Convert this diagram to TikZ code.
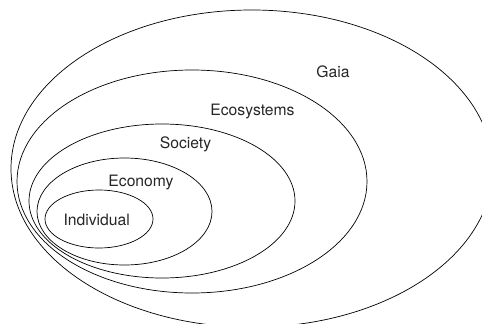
\documentclass[tikz,border=0pt]{standalone}
\usepackage{fontspec}
\setmainfont{TeX Gyre Heros}
\usepackage{tikz}
\usetikzlibrary{positioning}

\tikzset{
    ring/.style={draw=black, line width=0.7pt},
    tag/.style={anchor=base, inner sep=0pt, font=\fontsize{15.7}{18}\selectfont, text=black!85}
}

\begin{document}
\begin{tikzpicture}[x=1pt, y=-1pt]
    \useasboundingbox (0,0) rectangle (482,324);
    \clip (0,0) rectangle (482,324);

    % Nested spheres
    \foreach \cx/\cy/\rx/\ry in {99/219/54/29, 124.5/211.5/87.5/53.5, 162/201/133/77, 192/181.5/175/111.5, 251.8/168.6/240.8/158.6}
        \draw[ring] (\cx,\cy) ellipse [x radius=\rx pt, y radius=\ry pt];

    % Labels
    \node[tag] (gaia) at (333,77) {Gaia};
    \node[tag] (ecosys) at (252.5,115) {Ecosystems};
    \node[tag] (society) at (185.5,148) {Society};
    \node[tag] (economy) at (141,186) {Economy};
    \node[tag] (indiv) at (96.7,225.5) {Individual};
\end{tikzpicture}
\end{document}
